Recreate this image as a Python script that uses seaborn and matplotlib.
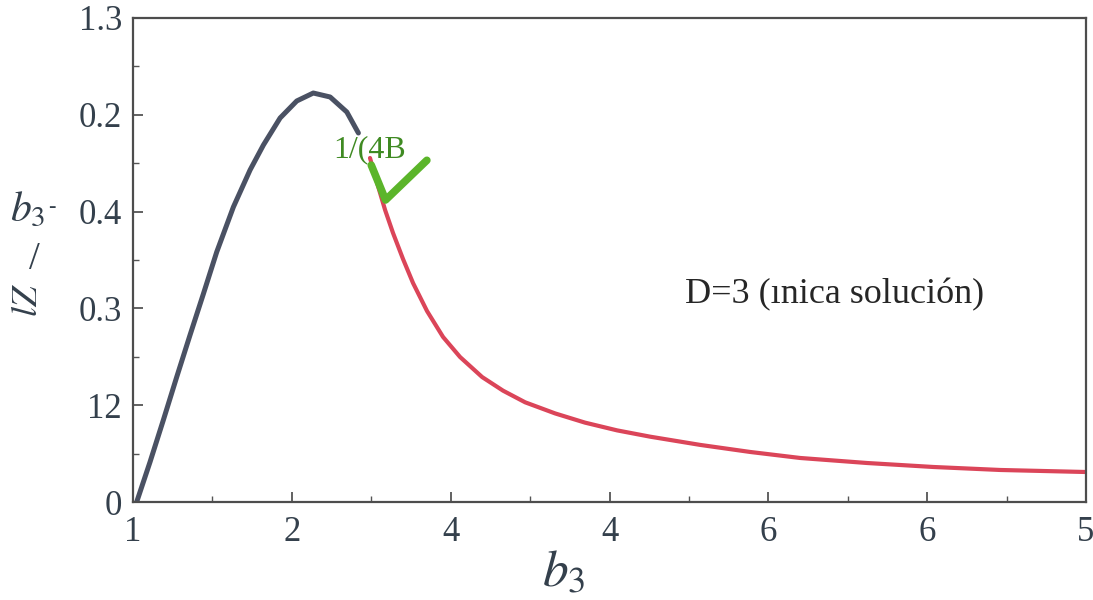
"""
Recreate the b3 curve chart: rising branch (dark) and the 1/(4B) decaying branch (red).
"""

import matplotlib
matplotlib.use("Agg")
import matplotlib.pyplot as plt
from matplotlib.ticker import MultipleLocator
import pandas as pd
import seaborn as sns

# Data (data units: x axis 1..7, y axis 0..5)
rise_x = [1.023, 1.107, 1.191, 1.275, 1.359, 1.443, 1.527, 1.632, 1.737, 1.821,
          1.926, 2.031, 2.135, 2.241, 2.346, 2.419]
rise_y = [0.000, 0.413, 0.847, 1.291, 1.725, 2.150, 2.583, 3.048, 3.430, 3.688,
          3.967, 4.143, 4.225, 4.184, 4.029, 3.812]

decay_x = [2.492, 2.537, 2.587, 2.637, 2.700, 2.763, 2.851, 2.952, 3.059, 3.198,
           3.330, 3.469, 3.658, 3.846, 4.048, 4.256, 4.571, 4.886, 5.200, 5.622,
           6.038, 6.460, 7.000]
decay_y = [3.554, 3.295, 3.017, 2.779, 2.510, 2.262, 1.973, 1.705, 1.498, 1.291,
           1.150, 1.030, 0.915, 0.820, 0.740, 0.675, 0.590, 0.517, 0.455, 0.403,
           0.362, 0.331, 0.310]

x_ticks = [1, 2, 3, 4, 5, 6, 7]
x_tick_labels = ["1", "2", "4", "4", "6", "6", "5"]
y_ticks = [0, 1, 2, 3, 4, 5]
y_tick_labels = ["0", "12", "0.3", "0.4", "0.2", "1.3"]

# hand-drawn check mark next to the label
check_x = [2.50, 2.59, 2.85]
check_y = [3.48, 3.12, 3.53]

DARK = "#4a5163"
RED = "#db4559"
GREEN_TEXT = "#3f8a22"
GREEN_CHECK = "#5bb52a"
TEXT = "#34404c"

sns.set_style("ticks")
plt.rcParams["font.family"] = ["Liberation Serif", "DejaVu Serif"]
plt.rcParams["mathtext.fontset"] = "stix"

rise = pd.DataFrame({"x": rise_x, "y": rise_y})
decay = pd.DataFrame({"x": decay_x, "y": decay_y})

fig = plt.figure(figsize=(10.93, 6.0), dpi=100)
ax = fig.add_axes([0.1217, 0.1633, 0.8719, 0.8067])

sns.lineplot(data=rise, x="x", y="y", ax=ax, color=DARK, linewidth=3.6,
             sort=False, estimator=None, solid_joinstyle="round")
sns.lineplot(data=decay, x="x", y="y", ax=ax, color=RED, linewidth=3.0,
             sort=False, estimator=None, solid_joinstyle="round")
ax.plot(check_x, check_y, color=GREEN_CHECK, linewidth=5.5,
        solid_capstyle="round", solid_joinstyle="round")

ax.set_xlim(1, 7)
ax.set_ylim(0, 5)
ax.set_xticks(x_ticks)
ax.set_xticklabels(x_tick_labels)
ax.set_yticks(y_ticks)
ax.set_yticklabels(y_tick_labels)
ax.xaxis.set_minor_locator(MultipleLocator(0.5))
ax.yaxis.set_minor_locator(MultipleLocator(0.5))
ax.tick_params(which="major", direction="in", length=7, width=1.3,
               color="#555555", labelsize=25, labelcolor=TEXT, pad=8)
ax.tick_params(which="minor", direction="in", length=4, width=1.0,
               color="#555555")
ax.tick_params(axis="x", which="major", pad=10)

for side in ["top", "right", "bottom", "left"]:
    ax.spines[side].set_visible(True)
    ax.spines[side].set_color("#4d4d4d")
    ax.spines[side].set_linewidth(1.6)

# axis labels
ax.set_xlabel("$b_3$", fontsize=37, color=TEXT)
ax.set_ylabel("")
ax.xaxis.set_label_coords(0.452, -0.1)

# the y label is a jumble of rotated and upright pieces in the original
fig.text(0.026, 0.500, "$lZ$", rotation=90, fontsize=26, color=TEXT,
         ha="center", va="center")
fig.text(0.031, 0.568, "/", fontsize=28, color=TEXT, ha="center", va="center")
fig.text(0.025, 0.648, "$b_3$", fontsize=30, color=TEXT, ha="center",
         va="center")
fig.text(0.047, 0.655, "-", fontsize=16, color=TEXT, ha="center",
         va="center")

# annotations
ax.text(2.259, 3.564, "1/(4B", fontsize=23, color=GREEN_TEXT, va="baseline")
ax.text(4.476, 2.056, "D=3 (ınica solución)", fontsize=26, color="#262626",
        va="baseline")

fig.savefig("out.png", dpi=100, facecolor="white")
